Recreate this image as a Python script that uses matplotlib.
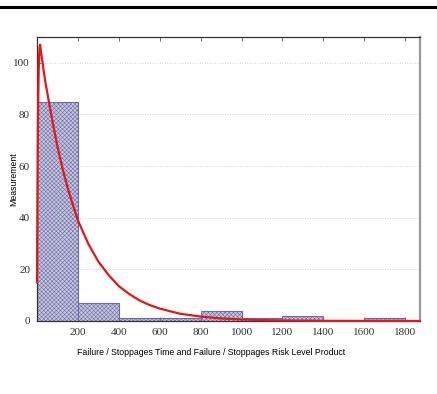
import matplotlib
matplotlib.use("Agg")
import matplotlib.pyplot as plt
from matplotlib.lines import Line2D

# Histogram bins and counts
bin_edges = [0, 200, 400, 600, 800, 1000, 1200, 1400, 1600, 1800]
bin_counts = [85, 7, 1, 1, 4, 1, 2, 0, 1]

# Fitted curve
curve_x = [0, 1, 2, 3, 4, 5, 6, 8, 10, 12, 15, 20, 30, 40, 50, 60, 80, 100,
           125, 150, 175, 200, 225, 250, 275, 300, 350, 400, 450, 500, 550,
           600, 700, 800, 900, 1000, 1100, 1200, 1400, 1600, 1870]
curve_y = [15, 30, 45, 58, 70, 79, 86, 96, 102, 105.5, 107, 104, 98.5, 93,
           88.5, 84, 75.5, 67.5, 59, 51.5, 45, 39, 34.5, 30, 26.5, 23, 17.8,
           13.5, 10.5, 8, 6.2, 4.8, 2.8, 1.7, 1.0, 0.6, 0.35, 0.2, 0.07,
           0.03, 0.01]

x_ticks = [200, 400, 600, 800, 1000, 1200, 1400, 1600, 1800]
y_ticks = [0, 20, 40, 60, 80, 100]

plt.rcParams['hatch.linewidth'] = 0.4
plt.rcParams['hatch.color'] = '#8585b0'

fig = plt.figure(figsize=(4.37, 3.94), dpi=100)
ax = fig.add_axes([0.0847, 0.1853, 0.8763, 0.7207])

widths = [bin_edges[i + 1] - bin_edges[i] for i in range(len(bin_counts))]
ax.bar(bin_edges[:-1], bin_counts, width=widths, align='edge',
       facecolor='#c9c9d9', edgecolor='#6a6ab0', hatch='xxxxxxxx',
       linewidth=0.8, zorder=2)
ax.plot(curve_x, curve_y, color='#e01818', linewidth=1.6, zorder=3,
        clip_on=False, solid_joinstyle='round')

ax.set_xlim(0, 1872)
ax.set_ylim(0, 110)
ax.set_xticks(x_ticks)
ax.set_yticks(y_ticks)
ax.yaxis.grid(True, linestyle=(0, (1, 2)), color='#c8c8c8', linewidth=0.6, zorder=0)
ax.set_axisbelow(True)

for lab in ax.get_xticklabels() + ax.get_yticklabels():
    lab.set_fontfamily('Liberation Serif')
    lab.set_fontsize(8)
    lab.set_color('#333333')
ax.tick_params(axis='both', direction='in', length=3, width=0.6,
               colors='#555555', labelcolor='#333333', top=True, pad=5)

for s in ['left', 'top', 'bottom']:
    ax.spines[s].set_color('#333333')
    ax.spines[s].set_linewidth(0.9)
ax.spines['right'].set_color('#999999')
ax.spines['right'].set_linewidth(1.6)

ax.set_xlabel('Failure / Stoppages Time and Failure / Stoppages Risk Level Product',
              family='Liberation Sans', fontsize=6.3)
ax.xaxis.set_label_coords(0.454, -0.095)
ax.set_ylabel('Measurement', family='Liberation Sans', fontsize=6.3)
ax.yaxis.set_label_coords(-0.05, 0.5)

fig.add_artist(Line2D([0, 1], [0.982, 0.982], transform=fig.transFigure,
                      color='black', linewidth=2.2))

fig.savefig('out.png', dpi=100)
